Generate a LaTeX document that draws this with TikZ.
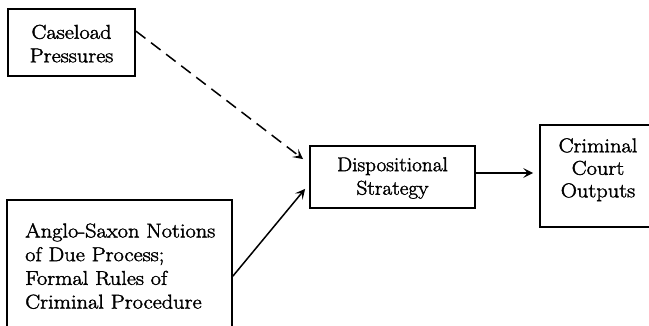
\documentclass[tikz,border=0pt]{standalone}
\usepackage{fontspec}
\setmainfont{Latin Modern Roman}[FakeBold=1.8]
\usetikzlibrary{arrows.meta,calc}
\begin{document}
\begin{tikzpicture}[x=1pt,y=-1pt,
  box/.style={draw, line width=1.8pt, inner sep=0pt},
  txt/.style={inner sep=0pt, align=center, xscale=1.12, transform shape, font=\fontsize{20}{23.5}\selectfont},
  link/.style={line width=1.5pt, -{Stealth[length=10pt,width=10pt,inset=4.5pt]}}]
\useasboundingbox (0,0) rectangle (649,326);
\clip (0,0) rectangle (649,326);
% boxes
\node[box, minimum width=127pt, minimum height=67pt] (case) at (71.5,42.5) {};
\node[txt, anchor=north] (casetext) at (71.5,24.6) {Caseload\\Pressures};
\node[box, minimum width=165pt, minimum height=62pt] (disp) at (392.5,177) {};
\node[txt, anchor=north, xscale=0.95] (disptext) at (392.5,157.1) {Dispositional\\Strategy};
\node[box, minimum width=116pt, minimum height=102pt] (crim) at (598,176) {};
\node[txt, anchor=north, font=\fontsize{20}{22.5}\selectfont] (crimtext) at (598,138.1) {Criminal\\Court\\Outputs};
\node[box, minimum width=225pt, minimum height=150pt] (anglo) at (119.5,275) {};
\node[txt, anchor=north west, align=left, font=\fontsize{20}{23.7}\selectfont] (anglotext) at (25,223.1) {Anglo-Saxon Notions\\of Due Process;\\Formal Rules of\\Criminal Procedure};
% connectors
\coordinate (c1) at ($(case.north east)+(0,23)$);
\coordinate (c2) at ($(disp.north west)+(-6,14)$);
\coordinate (a1) at ($(anglo.north east)+(0,77)$);
\coordinate (a2) at ($(disp.south west)+(-4,-20)$);
\coordinate (d1) at ($(disp.east)+(0,-4)$);
\coordinate (d2) at ($(crim.west)+(-6,-3)$);
\draw[link, dash pattern=on 12pt off 7pt] (c1) -- (c2);
\draw[link] (a1) -- (a2);
\draw[link, line width=1.3pt] (d1) -- (d2);
\end{tikzpicture}
\end{document}
